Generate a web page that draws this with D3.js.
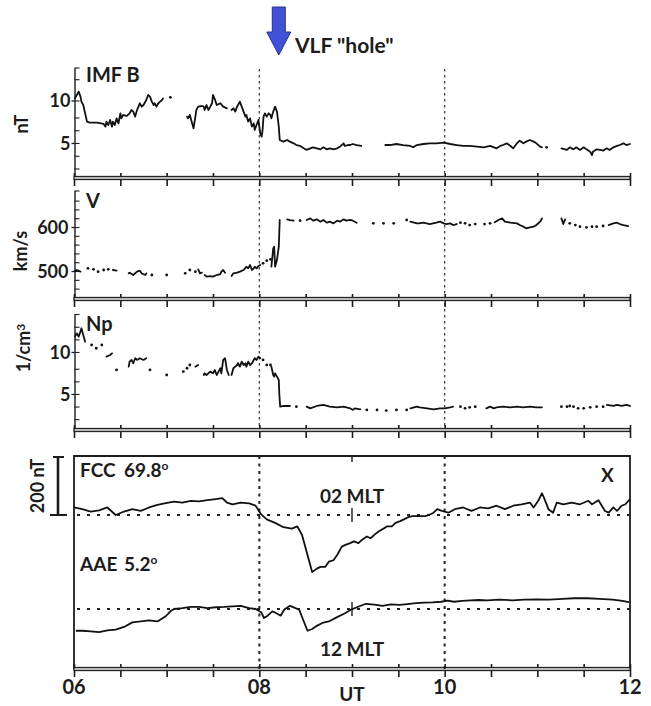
<!DOCTYPE html>
<html><head><meta charset="utf-8">
<script src="https://cdn.jsdelivr.net/npm/d3@7"></script>
<style>
body{margin:0;background:#fff}
svg{display:block}
text{font-family:Lato,"Open Sans",sans-serif;font-weight:700;fill:#1c1c1c}
</style>
</head><body>
<svg id="chart" width="651" height="706"></svg>
<script>
// ---------------- DATA (UT hours, value); null = data gap ----------------
const utTicks = [6,6.5,7,7.5,8,8.5,9,9.5,10,10.5,11,11.5,12];
const utLabels = [[6,"06"],[8,"08"],[10,"10"],[12,"12"]];

// IMF B magnitude, nT
const imfB = [
 [6.01,10.25],[6.03,10.65],[6.05,11.04],[6.07,10.45],[6.08,9.86],[6.10,9.47],[6.12,8.49],[6.14,7.51],[6.17,7.39],[6.25,7.39],
 [6.32,7.24],[6.34,6.92],[6.35,7.51],[6.37,7.12],[6.39,7.71],[6.41,6.92],[6.42,7.51],[6.44,7.12],[6.46,7.90],[6.48,7.31],
 [6.50,8.49],[6.51,7.90],[6.53,8.29],[6.57,8.18],[6.60,8.49],[6.62,8.88],[6.64,8.69],[6.66,8.10],[6.68,8.88],[6.71,9.67],
 [6.73,9.27],[6.75,9.47],[6.78,10.06],[6.80,10.65],[6.82,10.45],[6.84,9.86],[6.86,9.47],[6.87,9.67],[6.89,9.27],[6.91,9.67],
 [6.93,9.86],[6.95,10.06],[6.96,10.25], null,
 [7.04,10.37], null,
 [7.22,8.10],[7.23,7.90],[7.25,8.29],[7.27,7.51],[7.29,6.73],[7.31,8.10],[7.32,8.88],[7.34,9.27],[7.38,9.35],[7.40,9.27],
 [7.41,8.88],[7.43,9.47],[7.45,8.88],[7.47,9.27],[7.49,9.67],[7.50,10.65],[7.52,10.14],[7.54,9.47],[7.58,9.67],[7.61,9.27],[7.65,9.08], null,
 [7.70,8.88],[7.72,9.08],[7.74,8.69],[7.76,9.27],[7.77,9.47],[7.79,9.86],[7.81,9.27],[7.83,8.69],[7.85,8.10],[7.86,8.29],
 [7.88,7.51],[7.90,7.90],[7.92,6.92],[7.94,7.31],[7.95,6.53],[7.97,7.12],[7.99,7.71],[8.01,6.14],[8.025,5.75],[8.035,6.53],
 [8.045,8.10],[8.06,8.49],[8.08,8.10],[8.10,8.49],[8.12,8.29],[8.13,7.90],[8.15,8.69],[8.17,9.27],[8.19,8.69],[8.21,6.92],
 [8.22,5.35],[8.26,5.16],[8.30,5.35],[8.33,5.16],[8.37,4.96],[8.40,4.76],[8.44,4.65],[8.48,4.37],[8.51,4.18],[8.55,4.37],
 [8.58,4.49],[8.62,4.37],[8.66,4.25],[8.69,4.49],[8.73,4.25],[8.76,4.37],[8.80,4.25],[8.84,4.37],[8.87,4.57],[8.91,4.96],
 [8.92,4.65],[8.96,4.76],[8.98,4.76],[9.01,4.88],[9.05,4.76],[9.10,4.65], null,
 [9.36,4.76],[9.41,4.76],[9.48,4.88],[9.55,4.76],[9.63,4.65],[9.66,4.49],[9.70,4.76],[9.77,4.88],[9.84,4.96],[9.91,4.96],
 [9.99,5.04],[10.06,4.88],[10.13,4.76],[10.20,4.65],[10.27,4.65],[10.35,4.57],[10.42,4.49],[10.49,4.65],[10.56,4.37],[10.60,4.65],
 [10.63,4.76],[10.67,4.96],[10.71,4.65],[10.74,4.37],[10.78,4.96],[10.81,5.27],[10.85,4.96],[10.88,5.16],[10.92,5.35],[10.96,5.16],
 [10.99,4.96],[11.03,4.57],[11.05,4.49], null,
 [11.10,4.49], null,
 [11.26,4.37],[11.32,4.18],[11.35,4.49],[11.39,4.25],[11.42,4.49],[11.46,4.18],[11.50,4.49],[11.53,4.25],[11.57,3.98],[11.59,3.59],
 [11.60,3.98],[11.64,4.25],[11.68,4.18],[11.71,4.10],[11.75,4.37],[11.78,4.18],[11.82,4.49],[11.86,4.65],[11.89,4.76],[11.93,4.96],
 [11.96,4.76],[12.0,4.88]
];

// Solar wind speed V, km/s
const speedV = [
 [6.01,500.8],[6.03,502.3],[6.07,498.5], null,
 [6.15,506.1], null, [6.21,503.8], null, [6.26,498.5], null, [6.32,502.3], null, [6.37,503.8], null,
 [6.42,502.3],[6.46,500.8], null,
 [6.59,494.7],[6.60,496.2],[6.64,490.9],[6.68,498.5],[6.71,500.8],[6.73,494.7],[6.77,490.9],[6.78,494.7], null,
 [6.84,490.9], null, [7.00,490.9], null, [7.20,494.7], null, [7.25,502.3], null, [7.31,498.5], null,
 [7.34,503.8],[7.36,494.7],[7.38,496.2], null,
 [7.41,490.9],[7.43,487.1],[7.47,488.6],[7.50,487.1],[7.54,490.9],[7.58,493.2],[7.59,498.5],[7.61,502.3],[7.63,496.2], null,
 [7.70,488.6],[7.72,494.7],[7.76,496.2],[7.79,498.5],[7.83,502.3],[7.86,509.8],[7.88,506.1],[7.90,513.6],[7.92,502.3],[7.94,506.1],
 [7.95,509.8],[7.97,506.1],[7.99,511.4],[8.01,513.6], null,
 [8.04,517.4], null, [8.08,523.5], null, [8.12,526.5], null,
 [8.13,509.8],[8.15,551.5],[8.16,555.3],[8.17,509.8],[8.19,525.0],[8.21,555.3],[8.22,615.9], null,
 [8.30,617.4],[8.33,615.9],[8.37,614.4], null,
 [8.44,614.4], null,
 [8.51,615.9],[8.55,619.7],[8.58,614.4],[8.62,617.4],[8.66,612.1],[8.69,615.9],[8.73,609.8],[8.76,612.1],[8.80,608.3],[8.84,614.4],
 [8.87,612.1],[8.91,617.4],[8.94,614.4],[8.98,616.0],[9.01,614.4],[9.05,609.8], null,
 [9.23,608.3], null, [9.34,608.3], null, [9.45,608.3], null, [9.59,615.9], null,
 [9.63,612.1],[9.70,608.3],[9.72,608.3],[9.77,609.8],[9.84,606.8],[9.91,609.8],[9.95,612.1],[9.99,608.3],[10.02,606.8],[10.06,608.3],
 [10.09,604.5],[10.13,606.8], null,
 [10.17,609.8], null, [10.22,608.3], null, [10.27,604.5], null, [10.33,606.8], null, [10.43,606.8], null, [10.49,608.3], null,
 [10.54,610.6],[10.58,615.9],[10.62,619.7],[10.65,612.1],[10.71,609.8],[10.78,608.3],[10.81,604.5],[10.85,600.8],[10.88,597.0],[10.92,599.2],
 [10.96,600.8],[10.99,604.5],[11.03,612.1],[11.05,619.7], null,
 [11.26,619.7],[11.28,606.8],[11.30,617.4], null,
 [11.35,608.3], null, [11.41,604.5], null, [11.46,600.8], null, [11.53,599.2], null, [11.59,600.8], null, [11.64,600.8], null, [11.71,602.3], null,
 [11.77,604.5],[11.82,608.3],[11.86,609.8],[11.89,606.8],[11.93,604.5],[11.98,602.3]
];

// Proton density Np, 1/cm^3
const densityNp = [
 [6.01,11.83],[6.03,12.22],[6.05,11.83],[6.07,12.42],[6.08,12.82],[6.10,12.02],[6.12,11.23], null,
 [6.19,10.83], null, [6.24,10.44], null, [6.30,10.83], null,
 [6.35,9.44],[6.39,9.64],[6.41,9.84], null,
 [6.46,7.86], null,
 [6.59,8.25],[6.60,8.85],[6.62,9.05],[6.64,8.65],[6.66,9.25],[6.68,9.05],[6.71,9.25],[6.75,9.05],[6.78,9.25], null,
 [6.82,7.86], null, [7.00,7.26], null, [7.18,7.66], null, [7.22,8.06], null, [7.25,8.45], null,
 [7.31,8.25],[7.34,8.45], null,
 [7.40,7.26],[7.41,7.46],[7.43,7.26],[7.47,7.66],[7.50,7.46],[7.52,7.86],[7.54,7.26],[7.56,7.66],[7.58,8.06],[7.59,7.46],
 [7.61,9.05],[7.63,9.25],[7.65,7.86],[7.67,7.26], null,
 [7.70,7.26],[7.72,8.06],[7.74,8.25],[7.76,8.45],[7.77,8.65],[7.79,8.25],[7.81,8.85],[7.83,8.45],[7.85,8.65],[7.86,8.25],
 [7.88,8.85],[7.90,8.45],[7.92,8.65],[7.94,9.05],[7.95,9.25],[7.97,9.05],[7.99,9.44],[8.01,9.25], null,
 [8.04,9.05], null, [8.08,8.45], null, [8.12,8.45], null,
 [8.13,8.25],[8.15,7.26],[8.16,7.06],[8.17,7.46],[8.19,7.06],[8.21,6.67],[8.215,5.08],[8.225,3.49],[8.26,3.57],[8.33,3.57], null,
 [8.40,3.49], null,
 [8.51,3.49],[8.55,3.29],[8.62,3.57],[8.69,3.69],[8.76,3.49],[8.84,3.41],[8.91,3.49],[8.98,3.29],[9.01,3.10],[9.03,3.29],[9.09,3.17], null,
 [9.16,3.10], null, [9.27,3.10], null, [9.37,3.02], null, [9.48,3.10], null, [9.59,3.10], null,
 [9.63,3.29],[9.70,3.49],[9.73,3.41],[9.81,3.29],[9.88,3.17],[9.95,3.29],[10.00,3.29],[10.06,3.41],[10.09,3.49], null,
 [10.17,3.49], null, [10.22,3.29], null, [10.27,3.41], null, [10.33,3.49], null,
 [10.45,3.29],[10.49,3.49],[10.53,3.29],[10.56,3.41],[10.63,3.49],[10.71,3.41],[10.78,3.49],[10.85,3.41],[10.92,3.49],[10.99,3.41],[11.05,3.41], null,
 [11.26,3.49], null, [11.32,3.49], null, [11.35,3.57], null, [11.39,3.49], null, [11.44,3.29], null, [11.50,3.29], null,
 [11.57,3.41], null, [11.64,3.49], null, [11.71,3.49], null,
 [11.75,3.69],[11.82,3.57],[11.86,3.69],[11.91,3.57],[11.96,3.69],[12.0,3.57]
];

// Ground magnetometer X component deviation from baseline, nT
const fccT = [6.00,6.09,6.18,6.27,6.36,6.45,6.54,6.63,6.72,6.81,6.90,6.99,7.08,7.17,7.26,7.35,7.44,7.53,7.60,7.65,
 7.71,7.80,7.89,7.96,8.02,8.08,8.17,8.26,8.35,8.41,8.46,8.50,8.55,8.57,8.62,8.66,8.71,8.75,8.80,8.84,
 8.89,8.93,8.98,9.02,9.07,9.11,9.16,9.20,9.25,9.29,9.34,9.38,9.43,9.47,9.52,9.56,9.61,9.65,9.70,9.79,
 9.83,9.88,9.92,9.97,10.04,10.11,10.20,10.29,10.38,10.47,10.56,10.65,10.74,10.83,10.92,10.96,11.01,11.05,11.07,11.12,
 11.17,11.21,11.28,11.37,11.46,11.55,11.59,11.66,11.73,11.77,11.82,11.86,11.91,11.95,12.00];
const fccX = [26,20,12,16,26,0,12,20,14,26,35,41,46,43,49,47,51,55,58,43,
 37,43,40,32,2,-15,-27,-42,-47,-39,-68,-115,-173,-197,-185,-179,-179,-161,-156,-138,
 -109,-103,-97,-91,-97,-85,-74,-80,-66,-56,-47,-39,-39,-27,-21,-15,-7,-4,-4,-4,
 0,8,20,14,8,20,26,14,26,23,32,20,32,37,43,26,49,75,61,20,
 8,43,37,43,37,49,37,51,14,8,26,14,32,37,55];
const aaeT = [6.02,6.09,6.18,6.27,6.36,6.45,6.54,6.63,6.72,6.81,6.90,6.99,7.04,7.08,7.17,7.26,7.35,7.44,7.53,7.62,7.71,7.80,7.89,7.96,
 8.02,8.05,8.09,8.14,8.18,8.23,8.27,8.33,8.39,8.43,8.48,8.52,8.57,8.61,8.68,8.75,8.84,8.93,8.99,
 9.06,9.15,9.24,9.33,9.42,9.51,9.60,9.69,9.78,9.87,9.96,10.03,10.10,10.19,10.28,10.37,10.46,10.59,10.73,10.86,
 11.00,11.13,11.27,11.40,11.54,11.67,11.81,11.90,11.99];
const aaeX = [-75,-75,-77,-80,-74,-71,-62,-46,-43,-39,-43,-25,-8,0,3,7,7,3,6,7,9,11,3,0,
 -11,-31,-23,-8,-14,-23,-2,11,3,-2,-43,-75,-69,-60,-48,-43,-28,-14,-2,
 7,18,15,11,16,14,17,20,22,23,25,29,25,28,30,31,30,32,30,32,
 33,32,35,37,37,35,32,29,24];

// ---------------- LAYOUT ----------------
const svg = d3.select("#chart");
const INK = "#1c1c1c";
const x = d3.scaleLinear().domain([6, 12]).range([74, 630]);

const panels = [
  {data: imfB, dom: [0.88, 13.88], rng: [178, 67.5], major: [5, 10], minor: [2, 3.5, 6.5, 8, 12.5],
   title: "nT", tx: 22, ty: 124, label: "IMF B", ly: 82, pad: 1},
  {data: speedV, dom: [436.4, 683], rng: [299, 190.5], major: [500, 600], minor: [440,460,480,520,540,560,580,620,640,660],
   title: "km/s", tx: 21, ty: 251, label: "V", ly: 208, pad: 3},
  {data: densityNp, dom: [0.71, 14.52], rng: [430, 314], major: [5, 10], minor: [2, 3.5, 6.5, 8, 11.5, 13],
   title: "1/cm", sup: "3", tx: 24, ty: 348, label: "Np", ly: 331, pad: 1}
];

function drawSeries(data, y, width) {
  const runs = []; let cur = [];
  data.forEach(d => { if (d === null) { if (cur.length) runs.push(cur); cur = []; } else cur.push(d); });
  if (cur.length) runs.push(cur);
  const line = d3.line().x(d => x(d[0])).y(d => y(d[1]));
  runs.filter(r => r.length > 1).forEach(r =>
    svg.append("path").attr("d", line(r)).attr("fill", "none").attr("stroke", "#111")
      .attr("stroke-width", width).attr("stroke-linejoin", "round").attr("stroke-linecap", "round"));
  runs.filter(r => r.length === 1).forEach(r =>
    svg.append("circle").attr("cx", x(r[0][0])).attr("cy", y(r[0][1])).attr("r", 1.4).attr("fill", "#111"));
}

function xAxis(yPos) {
  const ax = d3.axisBottom(x).tickValues(utTicks).tickSize(13).tickSizeOuter(0).tickFormat("");
  const ga = svg.append("g").attr("transform", `translate(0,${yPos - 5})`).call(ax);
  ga.select(".domain").remove();
  ga.selectAll(".tick line").attr("stroke", INK).attr("stroke-width", 1.6);
  svg.append("rect").attr("x", x(6)).attr("y", yPos - 1.6).attr("width", x(12) - x(6)).attr("height", 3.2)
    .attr("fill", "#b8b8b8").attr("stroke", INK).attr("stroke-width", 1.1);
}

// vertical dashed guide lines through the three solar-wind panels
[8, 10].forEach(h => svg.append("line").attr("x1", x(h)).attr("x2", x(h)).attr("y1", 69).attr("y2", 432)
  .attr("stroke", "#333").attr("stroke-width", 1.2).attr("stroke-dasharray", "2.5,3.5"));

panels.forEach(p => {
  const y = d3.scaleLinear().domain(p.dom).range(p.rng);
  const gl = svg.append("g").attr("transform", "translate(74.5,0)")
    .call(d3.axisLeft(y).tickValues(p.major).tickSize(3).tickSizeOuter(0).tickPadding(p.pad).tickFormat(d3.format("d")));
  gl.attr("font-family", null).attr("font-size", null);
  gl.select(".domain").attr("stroke", INK).attr("stroke-width", 1.4);
  gl.selectAll(".tick line").attr("stroke", INK).attr("stroke-width", 1.3);
  gl.selectAll(".tick text").attr("font-size", 18).attr("fill", INK).attr("dy", "0.36em");
  const gr = svg.append("g").attr("transform", "translate(74.5,0)")
    .call(d3.axisRight(y).tickValues(p.minor.concat(p.major, [p.dom[1]])).tickSize(5).tickSizeOuter(0).tickFormat(""));
  gr.select(".domain").remove();
  gr.selectAll(".tick line").attr("stroke", INK).attr("stroke-width", 1.1);
  xAxis(p.rng[0]);
  const t = svg.append("text").attr("transform", `translate(${p.tx},${p.ty}) rotate(-90)`)
    .attr("text-anchor", "middle").attr("dy", "0.36em").attr("font-size", 18).text(p.title);
  if (p.sup) t.append("tspan").attr("dy", "-0.45em").attr("font-size", 12).text(p.sup);
  svg.append("text").attr("x", 86).attr("y", p.ly).attr("font-size", 20).text(p.label);
  drawSeries(p.data, y, 1.8);
});

// ---------------- ground magnetometer panel ----------------
const fTop = 456, fBot = 669;
const yF = d3.scaleLinear().domain([0, 200]).range([515, 457]);
const yA = d3.scaleLinear().domain([0, 200]).range([609, 551]);

svg.append("path").attr("d", `M${x(6)},${fBot}V${fTop}H${x(12)}V${fBot}`)
  .attr("fill", "none").attr("stroke", INK).attr("stroke-width", 1.8);
xAxis(fBot);
svg.append("line").attr("x1", x(9)).attr("x2", x(9)).attr("y1", fTop).attr("y2", fTop + 6).attr("stroke", INK).attr("stroke-width", 1.4);

[8, 10].forEach(h => svg.append("line").attr("x1", x(h)).attr("x2", x(h)).attr("y1", fTop).attr("y2", fBot)
  .attr("stroke", "#222").attr("stroke-width", 2).attr("stroke-dasharray", "3,4.5"));
[yF(0), yA(0)].forEach(yy => {
  svg.append("line").attr("x1", x(6) + 3).attr("x2", x(12)).attr("y1", yy).attr("y2", yy)
    .attr("stroke", "#222").attr("stroke-width", 2).attr("stroke-dasharray", "3,7");
  svg.append("line").attr("x1", x(9)).attr("x2", x(9)).attr("y1", yy - 7).attr("y2", yy + 7)
    .attr("stroke", INK).attr("stroke-width", 1.4);
});

const fccLine = d3.line().x((d, i) => x(fccT[i])).y(d => yF(d));
svg.append("path").attr("d", fccLine(fccX)).attr("fill", "none").attr("stroke", "#111").attr("stroke-width", 1.8).attr("stroke-linejoin", "round");
const aaeLine = d3.line().x((d, i) => x(aaeT[i])).y(d => yA(d));
svg.append("path").attr("d", aaeLine(aaeX)).attr("fill", "none").attr("stroke", "#111").attr("stroke-width", 1.8).attr("stroke-linejoin", "round");

// 200 nT scale bar
const barX = 58;
svg.append("line").attr("x1", barX).attr("x2", barX).attr("y1", yF(200)).attr("y2", yF(0)).attr("stroke", INK).attr("stroke-width", 2.6);
svg.append("line").attr("x1", barX - 5).attr("x2", barX + 6).attr("y1", yF(200)).attr("y2", yF(200)).attr("stroke", INK).attr("stroke-width", 2);
svg.append("line").attr("x1", barX - 8).attr("x2", barX + 9).attr("y1", yF(0)).attr("y2", yF(0)).attr("stroke", INK).attr("stroke-width", 2);
svg.append("text").attr("transform", `translate(38,${(yF(0) + yF(200)) / 2}) rotate(-90)`)
  .attr("text-anchor", "middle").attr("dy", "0.36em").attr("font-size", 18).text("200 nT");

// station labels
function station(name, val, yBase) {
  svg.append("text").attr("x", 80).attr("y", yBase).attr("font-size", 19).text(name);
  const t = svg.append("text").attr("x", 124).attr("y", yBase).attr("font-size", 19).text(val);
  t.append("tspan").attr("dy", "-0.6em").attr("font-size", 12).text("o");
}
station("FCC", "69.8", 477);
station("AAE", "5.2", 571);
svg.append("text").attr("x", x(9)).attr("y", 503).attr("text-anchor", "middle").attr("font-size", 19).text("02 MLT");
svg.append("text").attr("x", x(9)).attr("y", 656).attr("text-anchor", "middle").attr("font-size", 19).text("12 MLT");
svg.append("text").attr("x", 601).attr("y", 482).attr("font-size", 19).text("X");

// UT labels
utLabels.forEach(([h, s]) => svg.append("text").attr("x", x(h)).attr("y", 694).attr("text-anchor", "middle").attr("font-size", 20).text(s));
svg.append("text").attr("x", x(9)).attr("y", 701).attr("text-anchor", "middle").attr("font-size", 19).text("UT");

// VLF "hole" arrow annotation
const ax0 = x(8.21);
svg.append("path").attr("d", `M${ax0 - 6.5},7H${ax0 + 6.5}V32H${ax0 + 12}L${ax0},55L${ax0 - 12},32H${ax0 - 6.5}Z`)
  .attr("fill", "#4152d6").attr("stroke", "#27318f").attr("stroke-width", 1);
svg.append("text").attr("x", 295).attr("y", 53).attr("font-size", 21).text('VLF "hole"');
</script>
</body></html>
